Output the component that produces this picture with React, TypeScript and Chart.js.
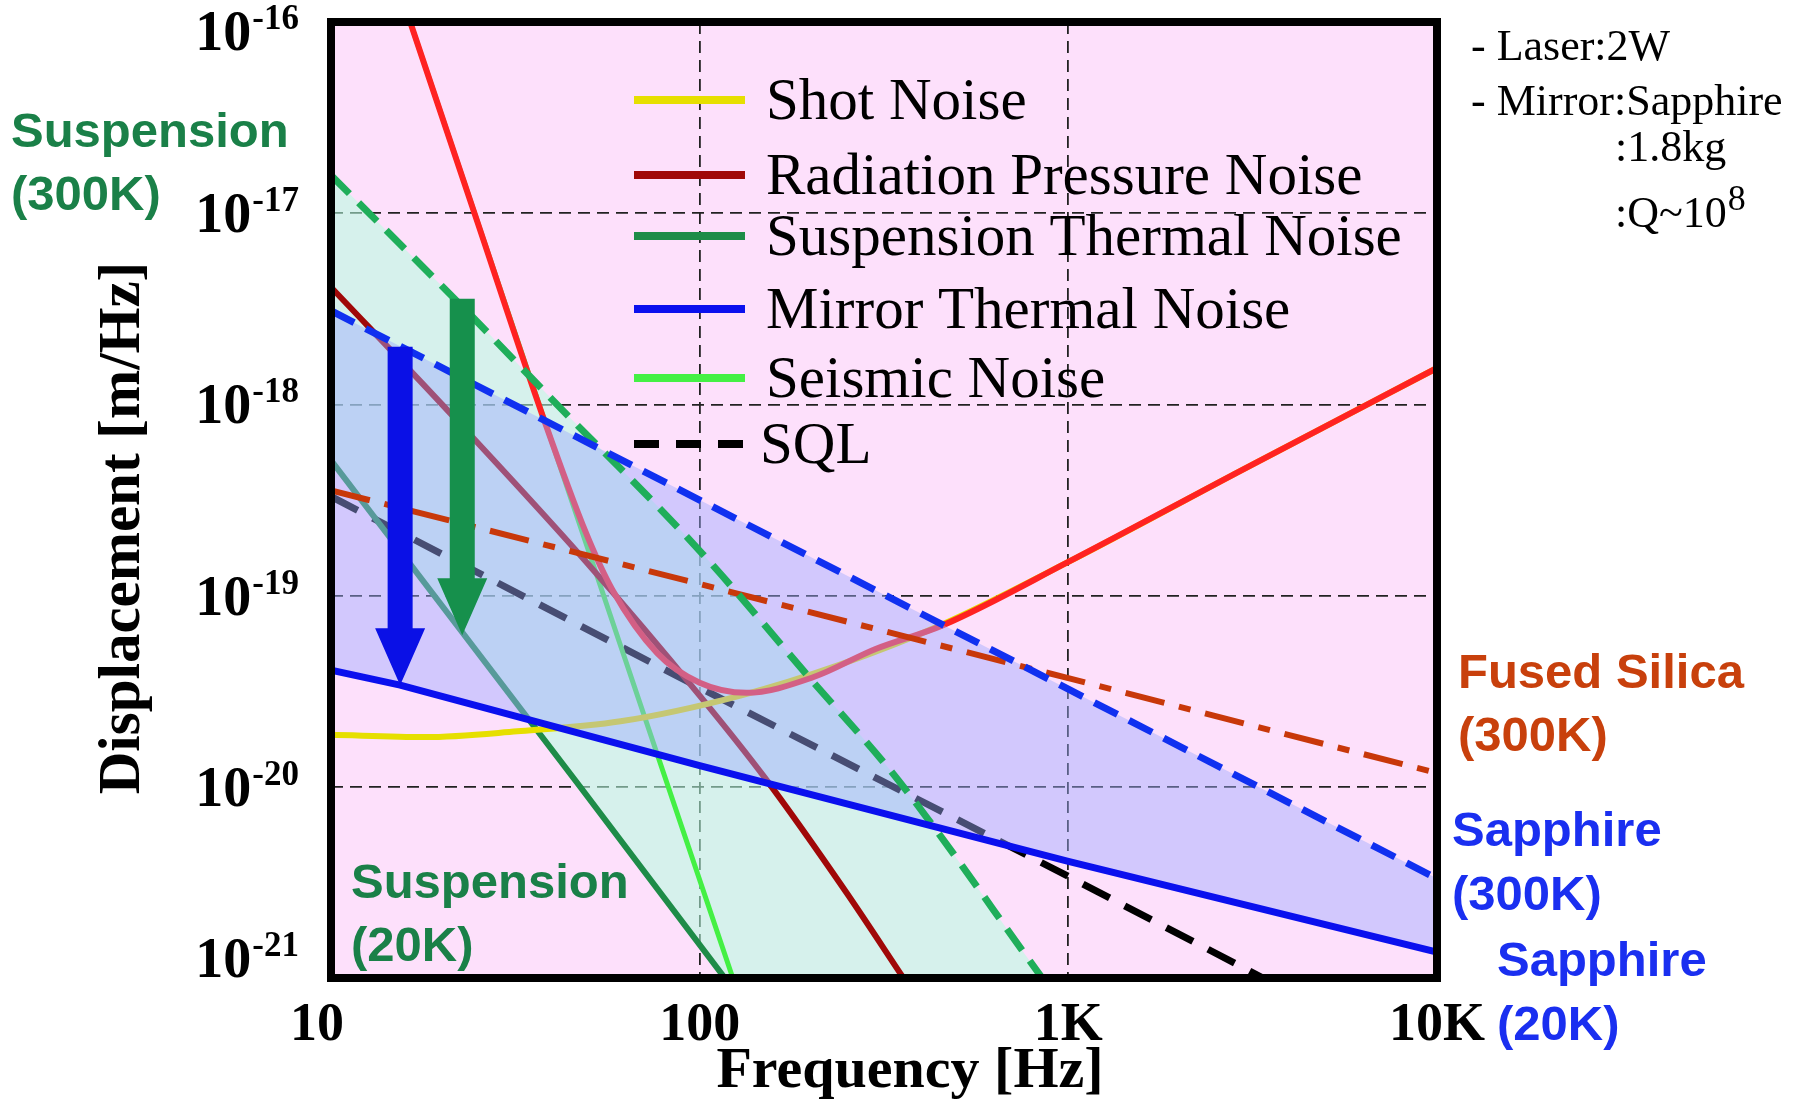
import React, { useEffect, useRef } from 'react';
import { Chart, registerables } from 'chart.js';

Chart.register(...registerables);

// ---- axes ----
const X_MIN = 10;
const X_MAX = 10000;
const Y_MIN = 1e-21;
const Y_MAX = 1e-16;
const X_TICKS = [10, 100, 1000, 10000];
const X_TICK_LABELS = ['10', '100', '1K', '10K'];
const Y_TICKS = [1e-16, 1e-17, 1e-18, 1e-19, 1e-20, 1e-21];

// ---- noise curves: frequency [Hz] and displacement [m/√Hz] ----
const SHOT_F = [10, 18, 32, 61, 129, 236, 450, 1000, 3000, 10000];
const SHOT_D = [1.87e-20, 1.82e-20, 1.95e-20, 2.2e-20, 3.0e-20, 4.3e-20, 7.0e-20, 1.5e-19, 4.6e-19, 1.55e-18];

const RAD_F = [10, 20, 50, 100, 150, 250, 357];
const RAD_D = [4.1e-18, 1.0e-18, 1.45e-19, 3.0e-20, 1.12e-20, 2.8e-21, 1.0e-21];

const SEIS_F = [16.4, 40, 123];
const SEIS_D = [1e-16, 6.1e-19, 1e-21];

const TOTAL_F = [16.4, 25, 37.6, 49.2, 58, 76.7, 100, 134, 203, 300, 457, 1000, 3000, 10000];
const TOTAL_D = [1e-16, 8.9e-18, 8.6e-19, 2.12e-19, 1.07e-19, 5.0e-20, 3.5e-20, 3.1e-20, 3.74e-20, 5.26e-20, 7.0e-20, 1.5e-19, 4.6e-19, 1.55e-18];

const SUSP20_F = [10, 47.4, 117];
const SUSP20_D = [5.1e-19, 1e-20, 1e-21];

const SUSP300_F = [10, 23.8, 40, 101.6, 200, 346, 849];
const SUSP300_D = [1.58e-17, 2.96e-18, 1.05e-18, 1.66e-19, 3.66e-20, 1.08e-20, 1e-21];

const SQL_F = [10, 100, 1000, 3374];
const SQL_D = [3.3e-19, 3.3e-20, 3.4e-21, 1e-21];

const FUSED_F = [10, 100, 1000, 10000];
const FUSED_D = [3.55e-19, 1.15e-19, 3.7e-20, 1.18e-20];

const MIRROR20_F = [10, 15.4, 100, 1000, 10000];
const MIRROR20_D = [4.07e-20, 3.4e-20, 1.29e-20, 4.07e-21, 1.365e-21];

const MIRROR300_F = [10, 100, 1000, 10000];
const MIRROR300_D = [3.09e-18, 3.16e-19, 3.24e-20, 3.31e-21];

// cooling arrows (300K -> 20K)
const ARROW_F = [15.4, 22.7];
const ARROW_FROM = [2.0e-18, 3.57e-18];
const ARROW_TO = [3.4e-20, 6.2e-20];

const LEGEND_LABELS = ['Shot Noise', 'Radiation Pressure Noise', 'Suspension Thermal Noise', 'Mirror Thermal Noise', 'Seismic Noise', 'SQL'];

// ---- styles ----
const SERIF = '"Liberation Serif", "Times New Roman", serif';
const SANS = '"Liberation Sans", Arial, sans-serif';
const PLOT_BG = '#fde0fb';
const GRID_COLOR = '#222222';
const C_SHOT = '#e6df00';
const C_RAD = '#a00808';
const C_SUSP = '#1e8c48';
const C_SUSP_DASH = '#1fae5a';
const C_MIRROR = '#0a10ee';
const C_MIRROR_DASH = '#1030f0';
const C_SEIS = '#44f044';
const C_TOTAL = '#ff2222';
const C_FUSED = '#c8380a';
const BLUE_FILL = 'rgba(157,171,255,0.45)';
const GREEN_FILL = 'rgba(182,255,224,0.55)';

const pts = (f: number[], d: number[]) => f.map((x, i) => ({ x, y: d[i] }));

const line = (data: any, color: string, width: number, order: number, extra: any = {}) => ({
  data,
  borderColor: color,
  borderWidth: width,
  pointRadius: 0,
  pointHoverRadius: 0,
  fill: false,
  order,
  borderCapStyle: 'butt',
  borderJoinStyle: 'round',
  ...extra,
});

const decoPlugin = {
  id: 'noiseDeco',
  beforeDraw(chart: any) {
    const { ctx, chartArea: a } = chart;
    ctx.save();
    ctx.fillStyle = '#ffffff';
    ctx.fillRect(0, 0, chart.width, chart.height);
    ctx.fillStyle = PLOT_BG;
    ctx.fillRect(a.left, a.top, a.right - a.left, a.bottom - a.top);
    ctx.restore();
  },
  afterDatasetsDraw(chart: any) {
    const { ctx, chartArea: a } = chart;
    const xs = chart.scales.x;
    const ys = chart.scales.y;
    const arrowColors = ['#0a10e6', '#16904c'];
    ctx.save();
    ARROW_F.forEach((f, i) => {
      const px = xs.getPixelForValue(f);
      const y1 = ys.getPixelForValue(ARROW_FROM[i]);
      const y2 = ys.getPixelForValue(ARROW_TO[i]);
      const sw = 25, hw = 50, hl = 57;
      ctx.fillStyle = arrowColors[i];
      ctx.beginPath();
      ctx.moveTo(px - sw / 2, y1);
      ctx.lineTo(px + sw / 2, y1);
      ctx.lineTo(px + sw / 2, y2 - hl);
      ctx.lineTo(px + hw / 2, y2 - hl);
      ctx.lineTo(px, y2);
      ctx.lineTo(px - hw / 2, y2 - hl);
      ctx.lineTo(px - sw / 2, y2 - hl);
      ctx.closePath();
      ctx.fill();
    });
    // plot frame
    ctx.strokeStyle = '#000';
    ctx.lineWidth = 8;
    ctx.strokeRect(a.left, a.top, a.right - a.left, a.bottom - a.top);
    ctx.restore();
  },
  afterDraw(chart: any) {
    const { ctx, chartArea: a } = chart;
    const xs = chart.scales.x;
    const ys = chart.scales.y;
    ctx.save();
    ctx.fillStyle = '#000';
    ctx.textBaseline = 'alphabetic';

    // y tick labels: 10 with superscript exponent
    ys.ticks.forEach((t: any) => {
      const py = ys.getPixelForValue(t.value);
      const base = Math.min(Math.max(py + 19, a.top + 28), a.bottom - 1);
      const exp = String(Math.round(Math.log10(t.value)));
      const right = a.left - 32;
      ctx.textAlign = 'right';
      ctx.font = `bold 35px ${SERIF}`;
      const supW = ctx.measureText(exp).width;
      ctx.fillText(exp, right, base - 21);
      ctx.font = `bold 56px ${SERIF}`;
      ctx.fillText('10', right - supW - 1, base);
    });

    // x tick labels
    ctx.textAlign = 'center';
    ctx.font = `bold 54px ${SERIF}`;
    xs.ticks.forEach((t: any, i: number) => {
      const px = xs.getPixelForValue(t.value);
      const label = X_TICK_LABELS[X_TICKS.indexOf(t.value)];
      ctx.fillText(label, i === 0 ? px - 14 : px, 1040);
    });

    // axis titles
    ctx.font = `bold 58px ${SERIF}`;
    ctx.fillText('Frequency [Hz]', 910, 1087);
    ctx.save();
    ctx.translate(139, 528);
    ctx.rotate(-Math.PI / 2);
    ctx.font = `bold 59px ${SERIF}`;
    ctx.fillText('Displacement [m/Hz]', 0, 0);
    ctx.restore();

    // legend
    const legendStyles = [
      { color: C_SHOT, dash: [] },
      { color: C_RAD, dash: [] },
      { color: C_SUSP, dash: [] },
      { color: C_MIRROR, dash: [] },
      { color: C_SEIS, dash: [] },
      { color: '#000', dash: [25, 17] },
    ];
    const rows = [100, 175, 236, 309, 378, 444];
    ctx.textAlign = 'left';
    ctx.font = `59px ${SERIF}`;
    LEGEND_LABELS.forEach((label, i) => {
      const y = rows[i];
      ctx.save();
      ctx.strokeStyle = legendStyles[i].color;
      ctx.lineWidth = 8;
      ctx.setLineDash(legendStyles[i].dash);
      ctx.beginPath();
      ctx.moveTo(634, y);
      ctx.lineTo(745, y);
      ctx.stroke();
      ctx.restore();
      ctx.fillStyle = '#000';
      ctx.fillText(label, i === 5 ? 760 : 766, y + 19);
    });

    // parameter notes
    ctx.font = `44px ${SERIF}`;
    ctx.fillText('- Laser:2W', 1471, 60);
    ctx.fillText('- Mirror:Sapphire', 1471, 115);
    ctx.fillText(':1.8kg', 1615, 161);
    ctx.fillText(':Q~10', 1615, 227);
    const qw = ctx.measureText(':Q~10').width;
    ctx.font = `36px ${SERIF}`;
    ctx.fillText('8', 1615 + qw + 1, 210);

    // curve annotations
    const notes = [
      { text: ['Suspension', '(300K)'], x: 11, y: [147, 210], color: '#1a8048' },
      { text: ['Suspension', '(20K)'], x: 351, y: [898, 961], color: '#1a8048' },
      { text: ['Fused Silica', '(300K)'], x: 1458, y: [688, 751], color: '#c8400c' },
      { text: ['Sapphire', '(300K)'], x: 1452, y: [846, 910], color: '#1a2ff0' },
      { text: ['Sapphire', '(20K)'], x: 1497, y: [976, 1040], color: '#1a2ff0' },
    ];
    ctx.font = `bold 49px ${SANS}`;
    notes.forEach((n) => {
      ctx.fillStyle = n.color;
      n.text.forEach((s, k) => ctx.fillText(s, n.x, n.y[k]));
    });
    ctx.restore();
  },
};

export default function App() {
  const ref = useRef<HTMLCanvasElement>(null);

  useEffect(() => {
    const canvas = ref.current;
    if (!canvas) return;

    const suspLowerEdge = [...pts(SUSP20_F, SUSP20_D), { x: SUSP300_F[SUSP300_F.length - 1], y: Y_MIN }];

    const datasets: any[] = [
      // 0-3: boundary curves drawn above the shaded bands
      line(pts(MIRROR20_F, MIRROR20_D), C_MIRROR, 7, 0),
      line(pts(MIRROR300_F, MIRROR300_D), C_MIRROR_DASH, 7, 0, { borderDash: [26, 13] }),
      line(pts(SUSP300_F, SUSP300_D), C_SUSP_DASH, 7, 0, { borderDash: [26, 13], cubicInterpolationMode: 'monotone' }),
      line(pts(FUSED_F, FUSED_D), C_FUSED, 6, 0, { borderDash: [40, 15, 12, 15] }),
      // 4: mirror thermal band (300K .. 20K)
      line(pts(MIRROR300_F, MIRROR300_D), 'transparent', 0, 10, { fill: 0, backgroundColor: BLUE_FILL }),
      // 5-10: noise curves under the mirror band
      line(pts(TOTAL_F, TOTAL_D), C_TOTAL, 6, 20, { cubicInterpolationMode: 'monotone' }),
      line(pts(SHOT_F, SHOT_D), C_SHOT, 6, 21, { cubicInterpolationMode: 'monotone' }),
      line(pts(RAD_F, RAD_D), C_RAD, 6, 22, { cubicInterpolationMode: 'monotone' }),
      line(pts(SEIS_F, SEIS_D), C_SEIS, 5, 23),
      line(pts(SUSP20_F, SUSP20_D), C_SUSP, 6, 24),
      line(pts(SQL_F, SQL_D), '#000000', 7, 25, { borderDash: [30, 17] }),
      // 11-12: suspension thermal band (300K .. 20K)
      line(pts(SUSP300_F, SUSP300_D), 'transparent', 0, 30, { fill: 12, backgroundColor: GREEN_FILL, cubicInterpolationMode: 'monotone' }),
      line(suspLowerEdge, 'transparent', 0, 31),
    ];

    const chart = new Chart(canvas, {
      type: 'line',
      data: { datasets },
      options: {
        responsive: false,
        animation: false,
        devicePixelRatio: 1,
        layout: { padding: { left: 331, right: 363, top: 22, bottom: 122 } },
        plugins: {
          legend: { display: false },
          tooltip: { enabled: false },
          filler: { propagate: false },
        },
        scales: {
          x: {
            type: 'logarithmic',
            min: X_MIN,
            max: X_MAX,
            afterBuildTicks: (s: any) => { s.ticks = X_TICKS.map((v) => ({ value: v })); },
            afterFit: (s: any) => { s.height = 0; },
            ticks: { display: false },
            grid: { color: GRID_COLOR, lineWidth: 1.8, drawTicks: false },
            border: { display: false, dash: [12, 7] },
          },
          y: {
            type: 'logarithmic',
            min: Y_MIN,
            max: Y_MAX,
            afterBuildTicks: (s: any) => { s.ticks = Y_TICKS.map((v) => ({ value: v })); },
            afterFit: (s: any) => { s.width = 0; },
            ticks: { display: false },
            grid: { color: GRID_COLOR, lineWidth: 1.8, drawTicks: false },
            border: { display: false, dash: [12, 7] },
          },
        },
      } as any,
      plugins: [decoPlugin as any],
    });
    return () => chart.destroy();
  }, []);

  return (
    <div style={{ position: 'fixed', left: 0, top: 0, width: 1800, height: 1100, background: '#fff' }}>
      <canvas ref={ref} width={1800} height={1100} style={{ display: 'block', width: 1800, height: 1100 }} />
    </div>
  );
}
